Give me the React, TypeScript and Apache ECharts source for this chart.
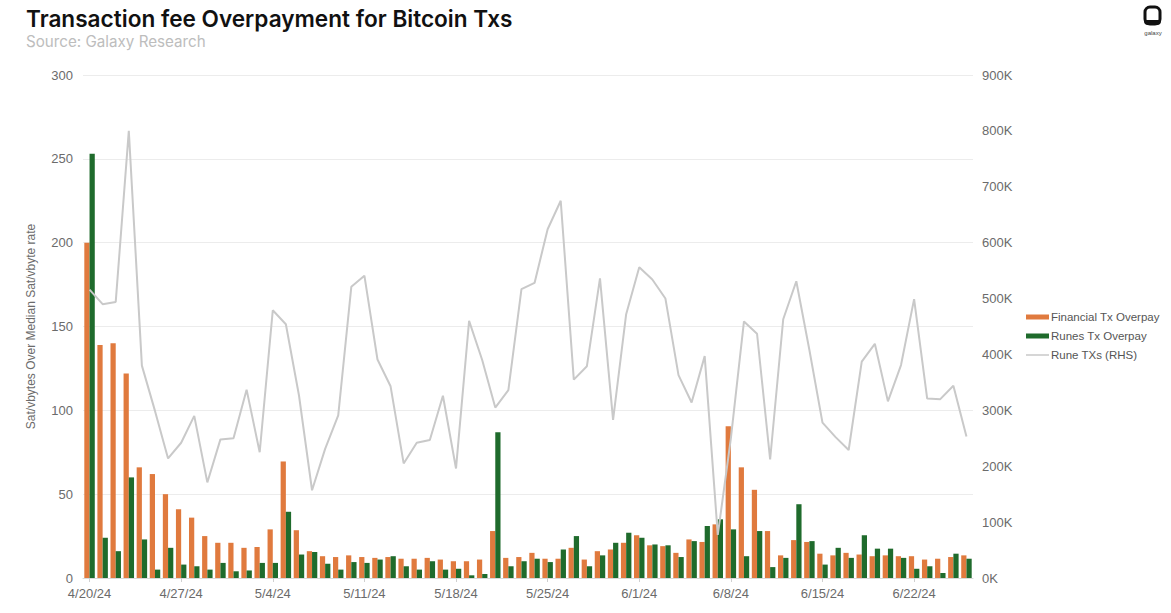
import React, { useEffect, useRef } from "react";
import * as echarts from "echarts";

const categories: string[] = [
  "4/20/24", "4/21/24", "4/22/24", "4/23/24", "4/24/24", "4/25/24", "4/26/24",
  "4/27/24", "4/28/24", "4/29/24", "4/30/24", "5/1/24", "5/2/24", "5/3/24",
  "5/4/24", "5/5/24", "5/6/24", "5/7/24", "5/8/24", "5/9/24", "5/10/24",
  "5/11/24", "5/12/24", "5/13/24", "5/14/24", "5/15/24", "5/16/24", "5/17/24",
  "5/18/24", "5/19/24", "5/20/24", "5/21/24", "5/22/24", "5/23/24", "5/24/24",
  "5/25/24", "5/26/24", "5/27/24", "5/28/24", "5/29/24", "5/30/24", "5/31/24",
  "6/1/24", "6/2/24", "6/3/24", "6/4/24", "6/5/24", "6/6/24", "6/7/24",
  "6/8/24", "6/9/24", "6/10/24", "6/11/24", "6/12/24", "6/13/24", "6/14/24",
  "6/15/24", "6/16/24", "6/17/24", "6/18/24", "6/19/24", "6/20/24", "6/21/24",
  "6/22/24", "6/23/24", "6/24/24", "6/25/24", "6/26/24",
];

const financialOverpay: number[] = [
  200, 139, 140, 122, 66, 62, 50, 41, 36, 25, 21, 21, 18, 18.5,
  29, 69.5, 28.5, 16, 13, 12.5, 13.5, 12.5, 12, 12.5, 11.5, 11.5, 12, 11,
  10, 10, 11, 28, 12, 12.5, 15, 11.5, 11.5, 18, 11, 16, 17, 21,
  25.5, 19.5, 19, 15, 23, 21.5, 32, 90.5, 66, 52.6, 28, 13.5, 22.6, 21.5,
  14.5, 13.5, 15, 14, 13, 13.5, 13, 13, 11, 11.5, 12.5, 13.5,
];

const runesOverpay: number[] = [
  253, 24, 16, 60, 23, 5, 18, 8, 7, 5, 9, 4, 4.5, 9,
  9, 39.5, 14, 15.5, 8.5, 5, 9.5, 9, 11, 13, 7, 5, 10, 5,
  5.5, 1.6, 2.4, 87, 7, 10, 11.5, 9.5, 17, 25, 7, 13.5, 21, 27,
  24, 20, 19.5, 12.5, 22, 31, 35, 29, 13, 28, 6.5, 12, 44, 22,
  8, 18, 12, 25.5, 17.5, 17.5, 12, 5.5, 7, 3, 14.5, 11.5,
];

const runeTxs: number[] = [
  516000, 490000, 494000, 800000, 380000, 299000, 214000, 242000, 290000, 171000,
  248000, 250000, 337000, 225000, 479000, 454000, 327000, 157000, 231000, 291000,
  521000, 541000, 391000, 343000, 205000, 242000, 247000, 326000, 196000, 460000,
  390000, 305000, 336000, 517000, 528000, 624000, 675000, 355000, 379000, 536000,
  283000, 472000, 556000, 534000, 500000, 363000, 314000, 397000, 77000, 250000,
  459000, 437000, 212000, 463000, 531000, 408000, 278000, 252000, 229000, 387000,
  419000, 316000, 381000, 499000, 321000, 320000, 344000, 253000,
];

const seriesNames = ["Financial Tx Overpay", "Runes Tx Overpay", "Rune TXs (RHS)"];
const leftTicks = { min: 0, max: 300, interval: 50 };
const rightTicks = { min: 0, max: 900000, interval: 100000 };

const ORANGE = "#E07A3E";
const GREEN = "#1F6B2C";
const GREY = "#C9C9C9";
const LABEL = "#6b6b6b";
const FONT = "'Liberation Sans', Arial, sans-serif";

export default function App() {
  const ref = useRef<HTMLDivElement>(null);

  useEffect(() => {
    if (!ref.current) return;
    const chart = echarts.init(ref.current, undefined, { renderer: "svg" });
    chart.setOption({
      animation: false,
      backgroundColor: "#ffffff",
      textStyle: { fontFamily: FONT },
      title: [
        {
          text: "Transaction fee Overpayment for Bitcoin Txs",
          left: 21,
          top: 2,
          textStyle: {
            fontFamily: "Inter, 'Noto Sans', sans-serif",
            fontSize: 22.6,
            fontWeight: 600,
            color: "#111111",
          },
        },
        {
          text: "Source: Galaxy Research",
          left: 21,
          top: 29,
          textStyle: {
            fontFamily: "Inter, 'Noto Sans', sans-serif",
            fontSize: 15.2,
            fontWeight: 400,
            color: "#bdbdbd",
          },
        },
      ],
      graphic: [
        {
          type: "rect",
          shape: { x: 1145, y: 7, width: 15, height: 17, r: 5 },
          style: { fill: "none", stroke: "#111111", lineWidth: 3 },
        },
        {
          type: "rect",
          shape: { x: 1144, y: 20, width: 17, height: 5, r: [0, 0, 4, 4] },
          style: { fill: "#111111" },
        },
        {
          type: "text",
          x: 1153,
          y: 30,
          style: {
            text: "galaxy",
            fontSize: 6,
            fill: "#444",
            align: "center",
            fontFamily: FONT,
          },
        },
      ],
      legend: {
        orient: "vertical",
        left: 1021,
        top: 306,
        itemWidth: 23,
        itemHeight: 5,
        itemGap: 7,
        textStyle: { fontSize: 11.5, color: "#555555", fontFamily: FONT, padding: [0, 0, 0, -3] },
        data: [
          { name: seriesNames[0], icon: "rect" },
          { name: seriesNames[1], icon: "rect" },
          { name: seriesNames[2], icon: "path://M0,0 L46,0 L46,3 L0,3 Z" },
        ],
      },
      grid: { left: 83, right: 198, top: 75, bottom: 35, containLabel: false },
      xAxis: {
        type: "category",
        data: categories,
        axisLine: { show: true, lineStyle: { color: "#d9d9d9" } },
        axisTick: { show: true, interval: 6, alignWithLabel: true, length: 4, lineStyle: { color: "#d0d0d0" } },
        axisLabel: { interval: 6, color: LABEL, fontSize: 13, margin: 9, fontFamily: FONT },
      },
      yAxis: [
        {
          type: "value",
          min: leftTicks.min,
          max: leftTicks.max,
          interval: leftTicks.interval,
          name: "Sat/vbytes Over Median Sat/vbyte rate",
          nameLocation: "middle",
          nameGap: 46,
          nameTextStyle: { color: LABEL, fontSize: 12, fontFamily: FONT },
          axisLine: { show: false },
          axisTick: { show: false },
          axisLabel: { color: LABEL, fontSize: 13, margin: 10, fontFamily: FONT },
          splitLine: { lineStyle: { color: "#ececec" } },
        },
        {
          type: "value",
          min: rightTicks.min,
          max: rightTicks.max,
          interval: rightTicks.interval,
          axisLine: { show: false },
          axisTick: { show: false },
          axisLabel: {
            color: LABEL,
            fontSize: 13,
            margin: 9,
            fontFamily: FONT,
            formatter: (v: number) => `${v / 1000}K`,
          },
          splitLine: { show: false },
        },
      ],
      series: [
        {
          name: seriesNames[0],
          type: "bar",
          data: financialOverpay,
          itemStyle: { color: ORANGE },
          barGap: "0%",
          barCategoryGap: "20%",
        },
        {
          name: seriesNames[1],
          type: "bar",
          data: runesOverpay,
          itemStyle: { color: GREEN },
          barGap: "0%",
          barCategoryGap: "20%",
        },
        {
          name: seriesNames[2],
          type: "line",
          yAxisIndex: 1,
          data: runeTxs,
          symbol: "none",
          lineStyle: { color: GREY, width: 2 },
          itemStyle: { color: GREY },
          z: 5,
        },
      ],
    });
    return () => chart.dispose();
  }, []);

  return (
    <div
      ref={ref}
      style={{ position: "absolute", left: 0, top: 0, width: 1171, height: 613 }}
    />
  );
}
